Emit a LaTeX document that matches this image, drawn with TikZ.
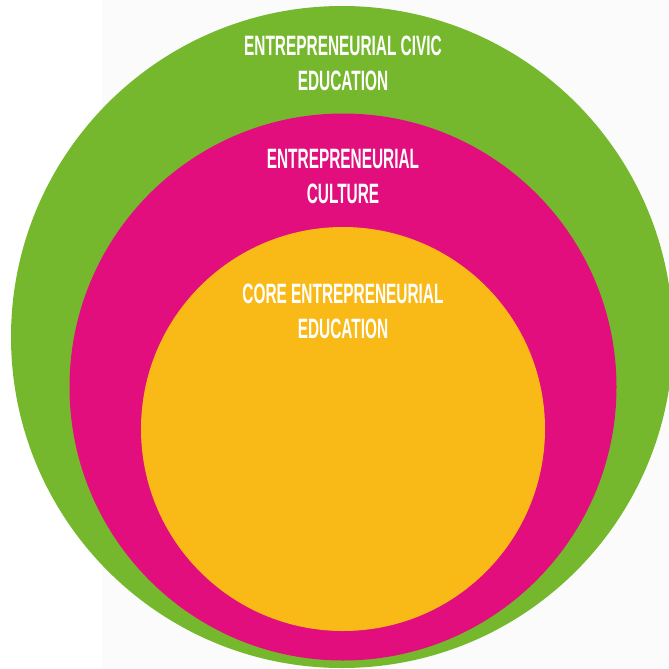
\documentclass[tikz,border=0pt]{standalone}
\usepackage{fontspec}
\newfontfamily\ringfont[FakeStretch=0.55]{Liberation Sans}
\definecolor{civicgreen}{HTML}{76B82D}
\definecolor{culturepink}{HTML}{E20E7D}
\definecolor{coreorange}{HTML}{F9B916}
\begin{document}
\begin{tikzpicture}[x=1pt,y=-1pt,
ring/.style={circle,inner sep=0pt,outer sep=0pt,minimum size=#1},
ringtext/.style={text=white,align=center,inner sep=0pt,
  font=\ringfont\bfseries\fontsize{28}{35}\selectfont}]
\useasboundingbox (0,0) rectangle (669,669);
\clip (0,0) rectangle (669,669);
\fill[black!1.5] (102,0) rectangle (669,669);
\coordinate (civic) at (342,337);
\coordinate (culture) at (343,387);
\coordinate (core) at (343,429);
\node[ring=662pt,fill=civicgreen] (civicring) at (civic) {};
\node[ring=547pt,fill=culturepink] (culturering) at (culture) {};
\node[ring=404pt,fill=coreorange] (corering) at (core) {};
\node[ringtext] (civiclabel) at (343,63.5) {ENTREPRENEURIAL CIVIC\\EDUCATION};
\node[ringtext] (culturelabel) at (343,176.5) {ENTREPRENEURIAL\\CULTURE};
\node[ringtext] (corelabel) at (343,311) {CORE ENTREPRENEURIAL\\EDUCATION};
\end{tikzpicture}
\end{document}
